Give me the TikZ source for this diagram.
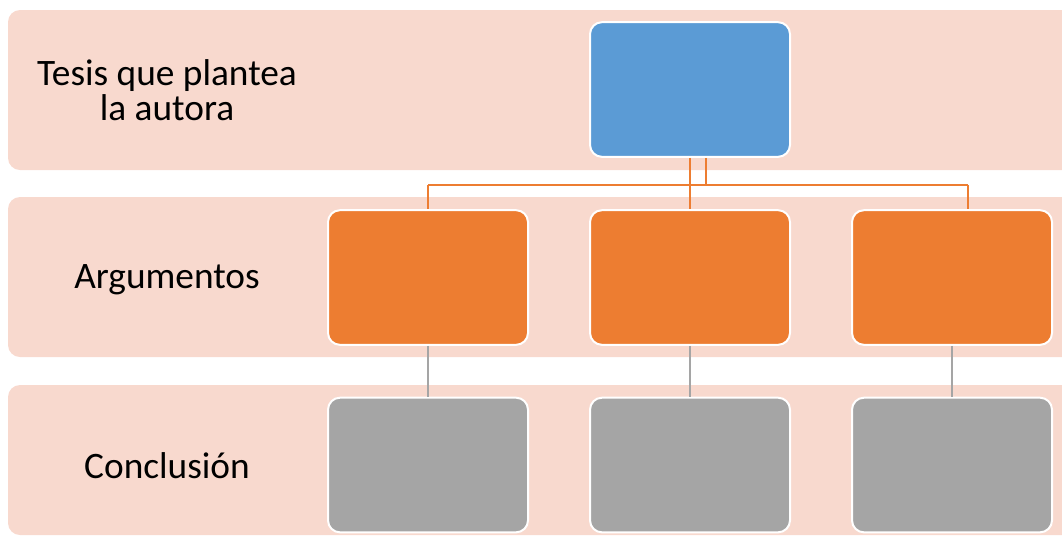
\documentclass[tikz,border=0pt]{standalone}
\usepackage{fontspec}
\setmainfont{Carlito}
\definecolor{bandpink}{HTML}{F8D9CE}
\definecolor{boxblue}{HTML}{5B9BD5}
\definecolor{boxorange}{HTML}{ED7D31}
\definecolor{boxgray}{HTML}{A5A5A5}
\begin{document}
\begin{tikzpicture}[x=0.75pt,y=-0.75pt,
  band/.style={fill=bandpink,draw=none,rounded corners=9pt},
  card/.style={draw=white,line width=1.5pt,rounded corners=9pt,minimum width=150pt,minimum height=101pt,inner sep=0pt},
  bluecard/.style={card,fill=boxblue},
  orangecard/.style={card,fill=boxorange},
  graycard/.style={card,fill=boxgray},
  label/.style={font=\fontsize{28}{26.5}\selectfont,align=center,text=black},
  orangeline/.style={draw=boxorange,line width=1.7pt},
  grayline/.style={draw=boxgray,line width=1.7pt}]
\useasboundingbox (0,0) rectangle (1062,537);
\begin{scope}
\clip (0,0) rectangle (1062,537);
\fill[band] (8,10) rectangle (1085,170);
\fill[band] (8,197) rectangle (1085,357);
\fill[band] (8,385) rectangle (1085,535);
\end{scope}
\node[label] (t1) at (167,90) {Tesis que plantea\\la autora};
\node[label] (t2) at (167,280) {Argumentos};
\node[label] (t3) at (167,466) {Conclusión};
\node[bluecard] (b0) at (690,89.5) {};
\node[orangecard] (o1) at (428,277.5) {};
\node[orangecard] (o2) at (690,277.5) {};
\node[orangecard] (o3) at (952,277.5) {};
\node[graycard] (g1) at (428,465) {};
\node[graycard] (g2) at (690,465) {};
\node[graycard] (g3) at (952,465) {};
\coordinate (hl) at (428,185);
\coordinate (hr) at (968,185);
\coordinate (bA) at (706,185);
\draw[orangeline] (b0.south) -- (o2.north);
\draw[orangeline] (b0.south -| bA) -- (bA);
\draw[orangeline] (hl) -- (hr);
\draw[orangeline] (hl) -- (o1.north);
\draw[orangeline] (hr) -- (hr |- o3.north);
\draw[grayline] (o1.south) -- (g1.north);
\draw[grayline] (o2.south) -- (g2.north);
\draw[grayline] (o3.south) -- (g3.north);
\end{tikzpicture}
\end{document}
